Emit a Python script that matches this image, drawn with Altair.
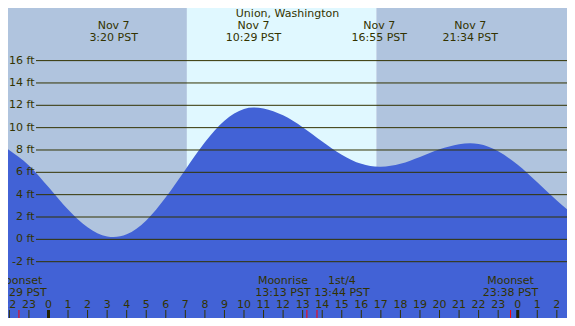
import altair as alt
import pandas as pd

# ---- data ----
tide_hours = [-2.07, -1, 0, 1, 2, 3, 3.333, 4, 5, 6, 7, 8, 9, 10, 10.483,
              11, 12, 13, 14, 15, 16, 16.917, 17, 18, 19, 20, 21, 21.567,
              22, 23, 24, 25, 26, 26.52]
tide_feet = [8.07, 6.62, 4.69, 2.68, 1.08, 0.25, 0.2, 0.45, 1.69, 3.76, 6.24, 8.69, 10.62, 11.67, 11.8,
             11.72, 11.1, 10.04, 8.76, 7.58, 6.76, 6.5, 6.5, 6.77, 7.38, 8.06, 8.52, 8.6,
             8.54, 7.89, 6.67, 5.11, 3.48, 2.69]

period_start = [-2.07, 7.08, 16.77]
period_end = [7.08, 16.77, 26.52]
period_kind = ["night", "day", "night"]

grid_feet = [-2, 0, 2, 4, 6, 8, 10, 12, 14, 16]

extreme_hours = [3.333, 10.483, 16.917, 21.567]
extreme_dates = ["Nov  7", "Nov  7", "Nov  7", "Nov  7"]
extreme_times = ["3:20 PST", "10:29 PST", "16:55 PST", "21:34 PST"]

tick_hours = list(range(-2, 27))

moon_hours = [-1.51, 13.217, 13.733, 23.633]
moon_names = ["Moonset", "Moonrise", "1st/4", "Moonset"]
moon_times = ["23:29 PST", "13:13 PST", "13:44 PST", "23:38 PST"]
moon_shift = ["center", "left", "right", "center"]

title_text = "Union, Washington"

# ---- layout ----
W, H = 559, 310
X_DOM = [-2.07, 26.52]
Y_DOM = [-7.04, 20.71]
TXT = "#333300"
FONT = "DejaVu Sans"
FS = 11

xs = alt.Scale(domain=X_DOM, nice=False, zero=False)
ys = alt.Scale(domain=Y_DOM, nice=False, zero=False)

tide = pd.DataFrame({"hour": tide_hours, "feet": tide_feet})
periods = pd.DataFrame({"start": period_start, "end": period_end, "kind": period_kind})
grid = pd.DataFrame({"feet": grid_feet, "label": [f"{v} ft" for v in grid_feet]})
extremes = pd.DataFrame({"hour": extreme_hours, "date": extreme_dates, "time": extreme_times})
ticks = pd.DataFrame({"hour": tick_hours})
moon = pd.DataFrame({"hour": moon_hours, "name": moon_names, "time": moon_times, "shift": moon_shift})

X = lambda f: alt.X(f, type="quantitative", scale=xs, axis=None)
Y = lambda f: alt.Y(f, type="quantitative", scale=ys, axis=None)

bg = alt.Chart(periods).mark_rect().encode(
    x=X("start"), x2="end",
    color=alt.Color("kind:N", scale=alt.Scale(domain=["night", "day"], range=["#b0c4de", "#e0f8ff"]), legend=None),
)

area = alt.Chart(tide).mark_area(color="#4262d6", interpolate="monotone", clip=True).encode(
    x=X("hour"), y=Y("feet"), y2=alt.datum(Y_DOM[0])
)

rules = alt.Chart(grid).mark_rule(color=TXT, strokeWidth=1).encode(
    y=Y("feet"), x=alt.value(28), x2=alt.value(W)
)
rule_lbl = alt.Chart(grid).mark_text(align="right", baseline="middle", font=FONT, fontSize=FS, color=TXT).encode(
    y=Y("feet"), x=alt.value(26.5), text="label:N"
)

top_date = alt.Chart(extremes).mark_text(baseline="middle", font=FONT, fontSize=FS, color=TXT).encode(
    x=X("hour"), y=alt.value(18), text="date:N"
)
top_time = alt.Chart(extremes).mark_text(baseline="middle", font=FONT, fontSize=FS, color=TXT).encode(
    x=X("hour"), y=alt.value(30), text="time:N"
)
title = alt.Chart(pd.DataFrame({"t": [title_text]})).mark_text(
    baseline="middle", font=FONT, fontSize=FS, color=TXT
).encode(x=alt.value(W / 2), y=alt.value(6), text="t:N")

tick_rules = alt.Chart(ticks).mark_rule(color=TXT, strokeWidth=1).encode(
    x=X("hour"), y=alt.value(302), y2=alt.value(H)
)
mid_rules = alt.Chart(ticks).transform_filter("datum.hour % 24 == 0").mark_rule(
    color="#222200", strokeWidth=3
).encode(x=X("hour"), y=alt.value(302), y2=alt.value(H))
tick_lbl = alt.Chart(ticks).transform_calculate(
    lbl="((datum.hour % 24) + 24) % 24"
).mark_text(baseline="middle", font=FONT, fontSize=FS, color=TXT).encode(
    x=X("hour"), y=alt.value(296.5), text="lbl:N"
)

moon_rules = alt.Chart(moon).mark_rule(color="#ff0000", strokeWidth=1).encode(
    x=X("hour"), y=alt.value(302), y2=alt.value(H)
)

def moon_text(shift, dx):
    base = alt.Chart(moon).transform_filter(f"datum.shift == '{shift}'")
    a = base.mark_text(baseline="middle", font=FONT, fontSize=FS, color=TXT, dx=dx).encode(
        x=X("hour"), y=alt.value(273), text="name:N")
    b = base.mark_text(baseline="middle", font=FONT, fontSize=FS, color=TXT, dx=dx).encode(
        x=X("hour"), y=alt.value(284.5), text="time:N")
    return [a, b]

layers = [bg, area, rules, rule_lbl, top_date, top_time, title,
          tick_rules, mid_rules, tick_lbl, moon_rules]
layers += moon_text("center", 0) + moon_text("left", -24) + moon_text("right", 25)

chart = alt.layer(*layers).properties(
    width=W, height=H, padding=0, autosize=alt.AutoSizeParams(type="none")
).configure_view(stroke=None)

chart.save("out.html", embed_options={"renderer": "svg", "actions": False})
